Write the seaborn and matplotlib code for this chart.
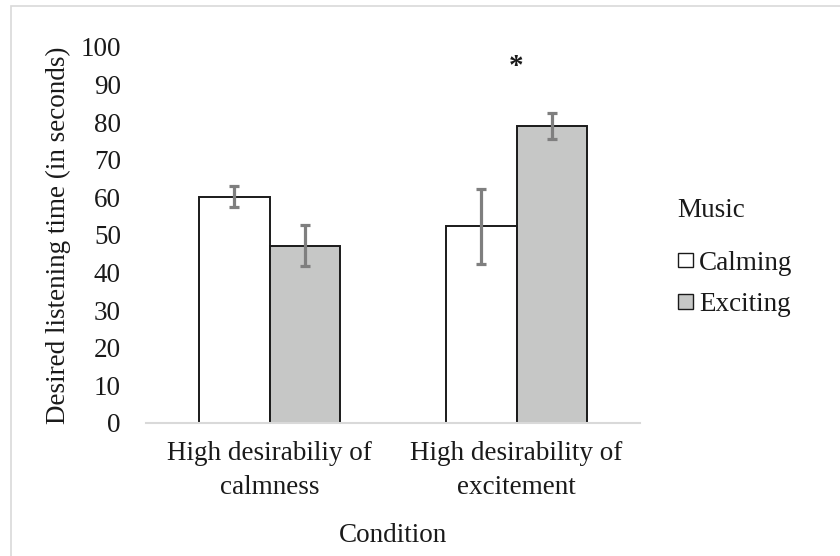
import matplotlib
matplotlib.use("Agg")
import matplotlib.pyplot as plt
import pandas as pd
import seaborn as sns
from matplotlib.patches import Rectangle

# values
conditions = ["High desirabiliy of\ncalmness", "High desirability of\nexcitement"]
music = ["Calming", "Exciting"]
calming_means = [60.2, 52.3]
exciting_means = [47.2, 79.0]
calming_err = [2.8, 9.9]
exciting_err = [5.4, 3.5]

df = pd.DataFrame({
    "Condition": conditions * 2,
    "Music": [music[0]] * 2 + [music[1]] * 2,
    "time": calming_means + exciting_means,
    "err": calming_err + exciting_err,
})

sns.set_theme(style="white")
plt.rcParams["font.family"] = ["Liberation Serif", "DejaVu Serif"]

fig = plt.figure(figsize=(8.4, 5.56), dpi=100)
ax = fig.add_axes([146 / 840, 1 - 423 / 556, 494 / 840, 376 / 556])

sns.barplot(data=df, x="Condition", y="time", hue="Music", hue_order=music,
            palette=["white", "#c6c7c6"], edgecolor="#1a1a1a", linewidth=1.4,
            width=0.574, errorbar=None, ax=ax, legend=True)

# error bars on top of each bar, taken from the drawn bars
for bar_cont, errs in zip(ax.containers, [calming_err, exciting_err]):
    xs = [p.get_x() + p.get_width() / 2 for p in bar_cont.patches]
    ys = [p.get_height() for p in bar_cont.patches]
    ax.errorbar(xs, ys, yerr=errs, fmt="none", ecolor="#7f7f7f",
                elinewidth=2.3, capsize=3.4, capthick=2.3, zorder=5)

ax.text(1.0, 94.8, "*", ha="center", va="center", fontsize=21, fontweight="bold",
        color="#1a1a1a")

fs = 19.5
ax.set_ylim(0, 100)
ax.set_yticks(range(0, 101, 10))
ax.set_xlim(-0.5, 1.5)
ax.tick_params(axis="both", length=0, labelsize=fs, colors="#1a1a1a")
ax.tick_params(axis="y", pad=18)
ax.tick_params(axis="x", pad=13)
ax.set_xticks([0, 1])
ax.set_xticklabels(conditions, linespacing=1.45)
for side in ["top", "right", "left"]:
    ax.spines[side].set_visible(False)
ax.spines["bottom"].set_color("#d9d9d9")
ax.spines["bottom"].set_linewidth(1.5)
ax.set_ylabel("Desired listening time (in seconds)", fontsize=fs, color="#1a1a1a",
              labelpad=7)
ax.set_xlabel("Condition", fontsize=fs, color="#1a1a1a", labelpad=17)

handles, labels = ax.get_legend_handles_labels()
leg = ax.legend(handles, labels, title="Music", frameon=False, fontsize=fs,
                title_fontsize=fs, loc="center left", bbox_to_anchor=(1.049, 0.44),
                borderpad=0, handlelength=0.58, handleheight=0.45, handletextpad=0.2,
                labelspacing=0.6)
leg._legend_box.align = "left"
leg._legend_box.sep = 20
leg.get_title().set_color("#1a1a1a")
for t in leg.get_texts():
    t.set_color("#1a1a1a")
for h in leg.legend_handles:
    h.set_linewidth(1.0)

# light frame around the figure
fig.patches.append(Rectangle((11 / 840, -0.05), 1.0, 1 - 6 / 556 + 0.05,
                             transform=fig.transFigure, fill=False,
                             edgecolor="#d9d9d9", linewidth=1.2))

fig.savefig("out.png", dpi=100)
